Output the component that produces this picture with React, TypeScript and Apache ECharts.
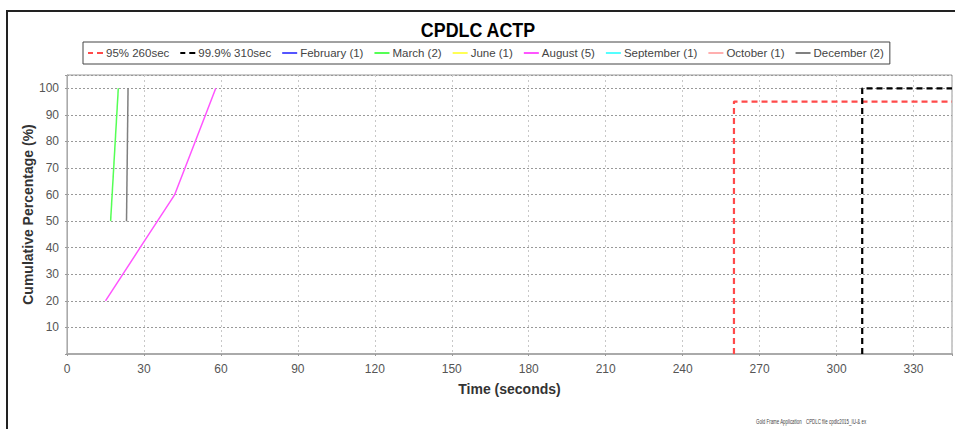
import React, { useEffect, useRef } from 'react';
import * as echarts from 'echarts';

const chartTitle = 'CPDLC ACTP';
const xAxisName = 'Time (seconds)';
const yAxisName = 'Cumulative Percentage (%)';
const footerParts = ['Gold Frame Application', 'CPDLC file', 'cpdlc2015_IU-& ex'];

const xMin = 0;
const xMax = 345;
const xInterval = 30;
const yMin = 0;
const yMax = 105;
const yInterval = 10;

const seriesNames = [
  '95% 260sec',
  '99.9% 310sec',
  'February (1)',
  'March (2)',
  'June (1)',
  'August (5)',
  'September (1)',
  'October (1)',
  'December (2)',
];
const seriesColors = ['#ff4a4a', '#000000', '#5555ff', '#55ff55', '#ffff55', '#ff55ff', '#55ffff', '#ffafaf', '#808080'];
const seriesDashed = [true, true, false, false, false, false, false, false, false];

const p95Points: number[][] = [[260, 0], [260, 95], [345, 95]];
const p999Points: number[][] = [[310, 0], [310, 100], [345, 100]];
const februaryPoints: number[][] = [];
const marchPoints: number[][] = [[17, 50], [20, 100]];
const junePoints: number[][] = [];
const augustPoints: number[][] = [[15, 20], [28.5, 40], [42, 60], [50, 80], [58, 100]];
const septemberPoints: number[][] = [];
const octoberPoints: number[][] = [];
const decemberPoints: number[][] = [[23.2, 50], [23.8, 100]];

const seriesPoints = [
  p95Points,
  p999Points,
  februaryPoints,
  marchPoints,
  junePoints,
  augustPoints,
  septemberPoints,
  octoberPoints,
  decemberPoints,
];

const dashedIcon = 'path://M0,0h5v2h-5z M9,0h6v2h-6z';
const solidIcon = 'path://M0,0h15v2h-15z';

export default function App() {
  const ref = useRef<HTMLDivElement>(null);
  useEffect(() => {
    if (!ref.current) return;
    const chart = echarts.init(ref.current, undefined, { renderer: 'svg' });
    const font = 'Liberation Sans';
    const series = seriesNames.map((name, i) => ({
      name,
      type: 'line',
      data: seriesPoints[i],
      symbol: 'none',
      showSymbol: false,
      color: seriesColors[i],
      lineStyle: {
        color: seriesColors[i],
        width: seriesDashed[i] ? 2.2 : 1.5,
        type: seriesDashed[i] ? [6, 4] : 'solid',
      },
      z: seriesDashed[i] ? 3 : 2,
    }));
    chart.setOption({
      animation: false,
      backgroundColor: '#ffffff',
      legend: {
        data: seriesNames.map((name, i) => ({
          name,
          icon: seriesDashed[i] ? dashedIcon : solidIcon,
          itemStyle: { color: seriesColors[i] },
        })),
        left: 83,
        top: 42,
        itemWidth: 15,
        itemHeight: 2,
        itemGap: 11,
        padding: [5, 6, 5, 5],
        borderColor: '#444',
        borderWidth: 1,
        textStyle: { color: '#444', fontFamily: font, fontSize: 11.5, padding: [0, 0, 0, -2] },
      },
      grid: {
        left: 67,
        top: 75,
        right: 2,
        bottom: 75,
        show: true,
        borderColor: '#999',
        borderWidth: 1,
        backgroundColor: '#ffffff',
      },
      xAxis: {
        type: 'value',
        min: xMin,
        max: xMax,
        interval: xInterval,
        offset: 3,
        name: xAxisName,
        nameLocation: 'middle',
        nameGap: 25,
        nameMoveOverlap: false,
        nameTextStyle: { fontFamily: font, fontSize: 14, fontWeight: 'bold', color: '#333' },
        axisLine: { show: true, lineStyle: { color: '#aaa', width: 2 } },
        axisTick: { show: true, length: 2, lineStyle: { color: '#999' } },
        axisLabel: {
          fontFamily: font,
          fontSize: 12,
          color: '#555',
          margin: 6,
          formatter: (v: number) => (v % xInterval === 0 ? String(v) : ''),
        },
        splitLine: { show: true, lineStyle: { color: '#c8c8c8', type: [2, 3], width: 1 } },
      },
      yAxis: {
        type: 'value',
        min: yMin,
        max: yMax,
        interval: yInterval,
        offset: 4,
        name: yAxisName,
        nameLocation: 'middle',
        nameGap: 28,
        nameMoveOverlap: false,
        nameTextStyle: { fontFamily: font, fontSize: 14, fontWeight: 'bold', color: '#333' },
        axisLine: { show: true, lineStyle: { color: '#aaa', width: 1 } },
        axisTick: { show: true, length: 2, lineStyle: { color: '#999' } },
        axisLabel: {
          fontFamily: font,
          fontSize: 12,
          color: '#555',
          margin: 4,
          formatter: (v: number) => (v > 0 && v % yInterval === 0 ? String(v) : ''),
        },
        splitLine: { show: true, lineStyle: { color: '#999', type: [2, 2], width: 1 } },
      },
      graphic: [
        {
          type: 'rect',
          shape: { x: 7, y: 11, width: 960, height: 440 },
          style: { fill: 'none', stroke: '#222', lineWidth: 2 },
          silent: true,
        },
        {
          type: 'text',
          x: 478,
          y: 29,
          scaleX: 0.85,
          style: {
            text: chartTitle,
            font: 'bold 21px "Liberation Sans"',
            fill: '#000',
            textAlign: 'center',
            textVerticalAlign: 'middle',
          },
        },
        ...footerParts.map((t, i) => ({
          type: 'text',
          x: [756, 806, 829][i],
          y: 421,
          scaleX: 0.55,
          style: {
            text: t,
            font: '8px "Liberation Sans"',
            fill: '#444',
            textAlign: 'left',
            textVerticalAlign: 'middle',
          },
        })),
      ],
      series,
    });
    return () => chart.dispose();
  }, []);
  return (
    <div
      ref={ref}
      style={{ position: 'fixed', left: 0, top: 0, width: 955, height: 429 }}
    />
  );
}
